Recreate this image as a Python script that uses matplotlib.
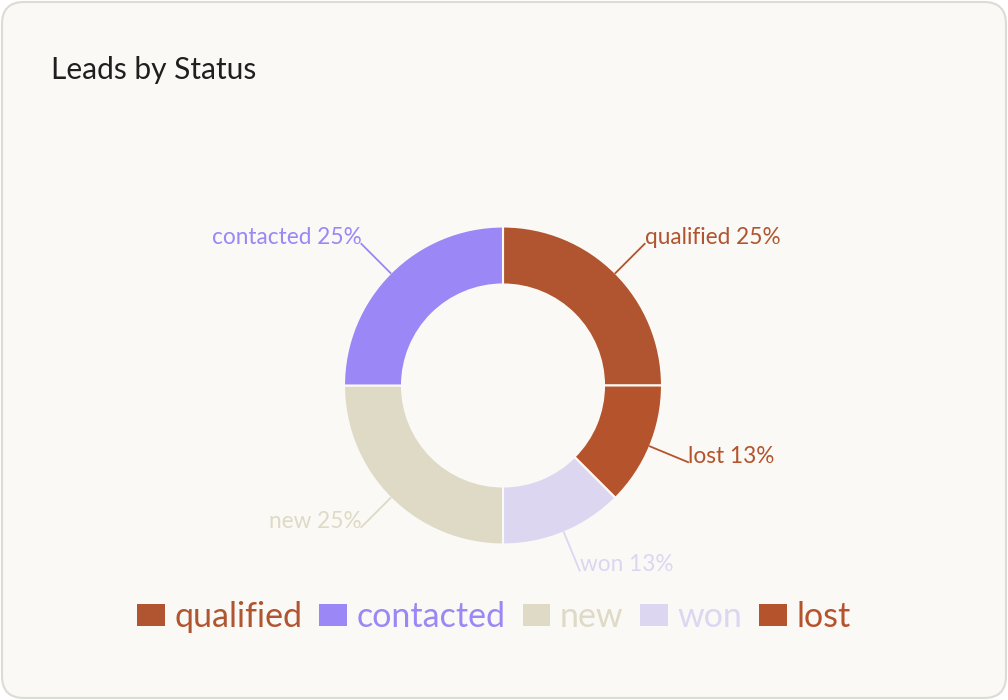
import matplotlib
matplotlib.use('Agg')
import matplotlib.pyplot as plt
from matplotlib.patches import FancyBboxPatch, Patch
import numpy as np

# dados
statuses = ['qualified', 'lost', 'won', 'new', 'contacted']
counts = [2, 1, 1, 2, 2]
colors = ['#B0552F', '#B5532D', '#DDD6F1', '#DEDAC6', '#9B87F5']
legend_order = ['qualified', 'contacted', 'new', 'won', 'lost']
title = 'Leads by Status'

plt.rcParams['font.family'] = ['Lato', 'DejaVu Sans']

W, H = 1008, 700
card_bg = '#FAF9F5'

fig = plt.figure(figsize=(W / 100, H / 100), dpi=100, facecolor='white')
ax = fig.add_axes([0, 0, 1, 1])
ax.set_xlim(0, W)
ax.set_ylim(0, H)
ax.axis('off')

# cartão de fundo
card = FancyBboxPatch((2, 2), W - 4, H - 4, boxstyle='round,pad=0,rounding_size=22',
                      facecolor=card_bg, edgecolor='#DCDBD5', linewidth=1.5, zorder=0)
ax.add_patch(card)

ax.text(51, H - 79, title, fontsize=21.5, color='#1F1F1F', va='baseline', ha='left')

# donut
cx, cy, R = 503, H - 385.5, 159
wedges, _ = ax.pie(counts, colors=colors, startangle=90, counterclock=False,
                   center=(cx, cy), radius=R, frame=True,
                   wedgeprops=dict(width=58, edgecolor=card_bg, linewidth=1.5))
ax.set_xlim(0, W)
ax.set_ylim(0, H)
ax.axis('off')

total = sum(counts)
for w, name, n, col in zip(wedges, statuses, counts, colors):
    mid = np.deg2rad((w.theta1 + w.theta2) / 2)
    x0, y0 = cx + R * np.cos(mid), cy + R * np.sin(mid)
    x1, y1 = cx + 1.26 * R * np.cos(mid), cy + 1.26 * R * np.sin(mid)
    ax.plot([x0, x1], [y0, y1], color=col, linewidth=1.3)
    pct = int(n / total * 100 + 0.5)
    ha = 'left' if np.cos(mid) > 0 else 'right'
    ax.text(x1, y1 + 6, f'{name} {pct}%', color=col, fontsize=16.3, ha=ha, va='center')

# legenda
handles = [Patch(facecolor=colors[statuses.index(s)], edgecolor='none') for s in legend_order]
label_colors = [colors[statuses.index(s)] for s in legend_order]
leg = ax.legend(handles, legend_order, loc='center', bbox_to_anchor=(494, H - 617),
                bbox_transform=ax.transData, ncol=5, frameon=False, fontsize=24.5,
                handlelength=0.82, handleheight=0.6, handletextpad=0.27,
                columnspacing=0.5, labelcolor=label_colors)

fig.savefig('out.png', dpi=100, facecolor='white')
